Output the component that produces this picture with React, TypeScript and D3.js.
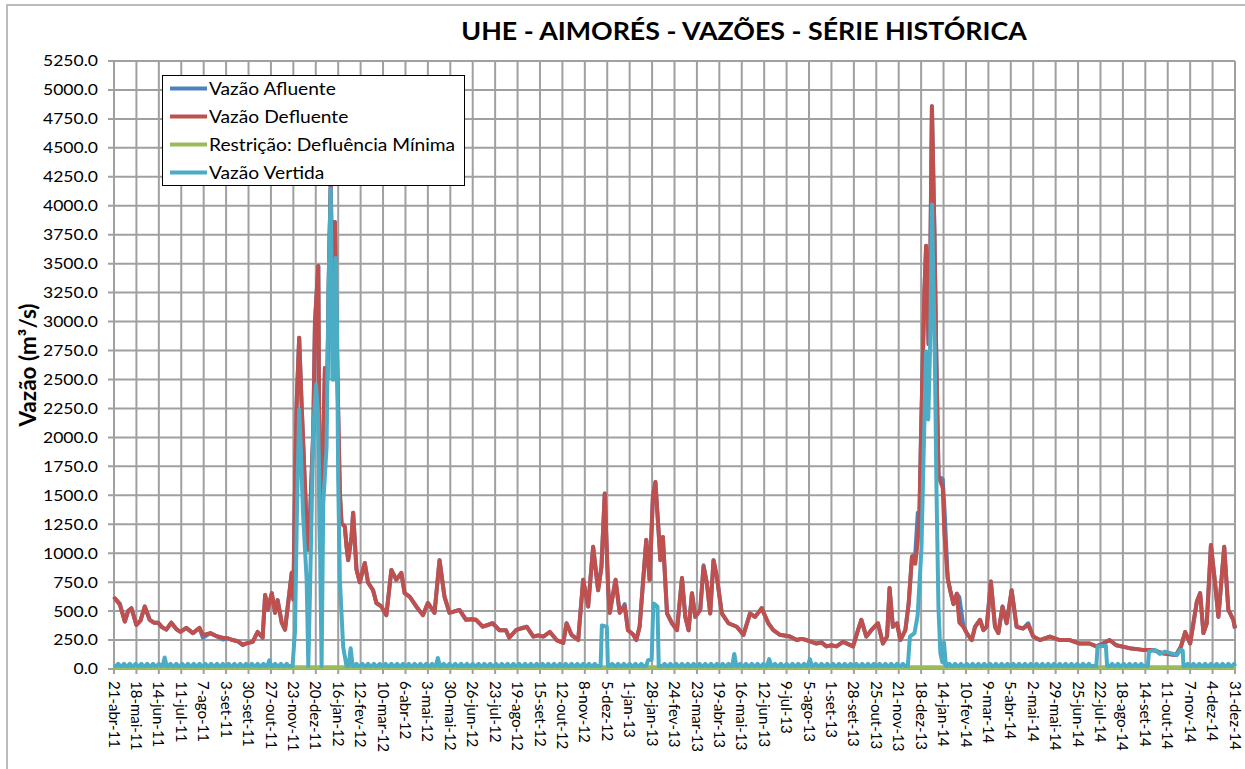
import React, { useEffect } from 'react';
import * as d3 from 'd3';

// eixo X: dias contados a partir de 21-abr-11, um rótulo a cada 27 dias
const rotulosX = [
  '21-abr-11', '18-mai-11', '14-jun-11', '11-jul-11', '7-ago-11', '3-set-11', '30-set-11', '27-out-11',
  '23-nov-11', '20-dez-11', '16-jan-12', '12-fev-12', '10-mar-12', '6-abr-12', '3-mai-12', '30-mai-12',
  '26-jun-12', '23-jul-12', '19-ago-12', '15-set-12', '12-out-12', '8-nov-12', '5-dez-12', '1-jan-13',
  '28-jan-13', '24-fev-13', '23-mar-13', '19-abr-13', '16-mai-13', '12-jun-13', '9-jul-13', '5-ago-13',
  '1-set-13', '28-set-13', '25-out-13', '21-nov-13', '18-dez-13', '14-jan-14', '10-fev-14', '9-mar-14',
  '5-abr-14', '2-mai-14', '29-mai-14', '25-jun-14', '22-jul-14', '18-ago-14', '14-set-14', '11-out-14',
  '7-nov-14', '4-dez-14', '31-dez-14',
];
const passoRotulo = 27;
const ticksY = [0, 250, 500, 750, 1000, 1250, 1500, 1750, 2000, 2250, 2500, 2750, 3000, 3250, 3500, 3750,
  4000, 4250, 4500, 4750, 5000, 5250];

// [dia, m³/s]
const defluente: [number, number][] = [
  [0, 600], [1, 610], [7, 555], [13, 410], [17, 500], [21, 525], [27, 380], [32, 420], [37, 540], [43, 425],
  [48, 400], [53, 400], [58, 360], [63, 340], [69, 400], [75, 345], [80, 320], [87, 355], [95, 310], [103, 355],
  [107, 295], [116, 310], [123, 285], [131, 270], [137, 265], [143, 250], [149, 240], [155, 210], [161, 225], [167, 235],
  [173, 320], [179, 270], [182, 640], [185, 510], [190, 655], [194, 485], [197, 595], [202, 400], [206, 340], [209, 525],
  [214, 830], [216, 600], [218, 1590], [220, 2300], [223, 2860], [226, 2270], [230, 1570], [232, 1250], [234, 1030], [236, 1290],
  [240, 2060], [242, 2990], [246, 3480], [248, 1030], [251, 1630], [254, 2600], [257, 2500], [259, 3500], [261, 4200], [264, 2700],
  [266, 3860], [269, 2560], [272, 1520], [274, 1260], [278, 1230], [280, 1060], [282, 940], [286, 1140], [288, 1350], [292, 860],
  [296, 750], [302, 915], [306, 745], [312, 680], [316, 570], [322, 540], [328, 465], [334, 855], [340, 770], [346, 830],
  [350, 655], [356, 625], [364, 540], [372, 465], [378, 570], [386, 485], [392, 940], [398, 625], [404, 485], [416, 510],
  [424, 425], [430, 430], [436, 425], [444, 365], [450, 380], [456, 395], [464, 335], [472, 335], [476, 270], [484, 335],
  [490, 350], [497, 365], [505, 280], [511, 290], [517, 280], [525, 320], [533, 250], [541, 225], [545, 395], [551, 295],
  [559, 250], [565, 770], [571, 540], [577, 1055], [583, 680], [587, 880], [591, 1515], [595, 710], [597, 485], [604, 770],
  [609, 485], [615, 540], [619, 335], [625, 300], [629, 250], [633, 365], [641, 1115], [645, 770], [649, 1490], [652, 1615],
  [656, 1170], [658, 940], [661, 1140], [666, 480], [672, 395], [678, 335], [684, 785], [688, 450], [692, 335], [696, 655],
  [700, 450], [706, 510], [710, 885], [714, 740], [718, 480], [722, 940], [726, 795], [732, 480], [740, 395], [750, 365],
  [758, 295], [766, 480], [772, 450], [780, 525], [788, 395], [794, 335], [802, 295], [814, 280], [822, 250], [828, 260],
  [834, 250], [846, 220], [852, 230], [858, 195], [864, 205], [870, 195], [878, 235], [884, 215], [890, 195], [896, 335],
  [900, 425], [906, 280], [912, 335], [920, 395], [926, 220], [931, 280], [934, 700], [938, 365], [943, 395], [947, 250],
  [953, 335], [957, 565], [961, 970], [965, 910], [968, 1110], [970, 1340], [972, 2055], [976, 3265], [978, 3655], [981, 2805],
  [983, 3460], [985, 4860], [988, 3780], [990, 2805], [993, 1665], [998, 1565], [1000, 1175], [1004, 785], [1007, 680], [1011, 560],
  [1015, 650], [1018, 400], [1023, 365], [1027, 310], [1033, 250], [1037, 365], [1043, 425], [1047, 335], [1051, 365], [1056, 755],
  [1061, 365], [1065, 310], [1070, 540], [1075, 395], [1081, 680], [1087, 365], [1095, 350], [1101, 380], [1107, 280], [1115, 250],
  [1127, 280], [1139, 250], [1151, 250], [1163, 220], [1175, 220], [1183, 195], [1191, 220], [1199, 250], [1207, 205], [1223, 180],
  [1239, 165], [1251, 165], [1263, 135], [1279, 120], [1285, 195], [1290, 320], [1296, 220], [1304, 580], [1308, 655], [1312, 310],
  [1316, 395], [1321, 1070], [1326, 740], [1330, 450], [1337, 1055], [1342, 510], [1348, 425], [1350, 350],
];

const afluente: [number, number][] = [
  [0, 600], [1, 610], [7, 565], [13, 410], [17, 500], [21, 525], [27, 380], [32, 420], [37, 540], [43, 425],
  [48, 400], [53, 400], [58, 360], [63, 340], [69, 400], [75, 345], [80, 320], [87, 355], [95, 310], [103, 355],
  [107, 270], [116, 310], [123, 285], [131, 255], [137, 265], [143, 250], [149, 240], [155, 205], [161, 225], [167, 235],
  [173, 320], [179, 270], [182, 640], [185, 510], [190, 655], [194, 485], [197, 595], [202, 400], [206, 340], [209, 525],
  [214, 830], [216, 600], [218, 1590], [220, 2300], [223, 2860], [226, 2270], [230, 1570], [232, 1250], [234, 1030], [236, 1290],
  [240, 2060], [242, 2990], [246, 3480], [248, 1030], [251, 1630], [254, 2600], [257, 2500], [259, 3500], [261, 4200], [264, 2700],
  [266, 3860], [269, 2560], [272, 1520], [274, 1260], [278, 1230], [280, 1060], [282, 940], [286, 1140], [288, 1350], [292, 860],
  [296, 750], [302, 915], [306, 745], [312, 680], [316, 570], [322, 540], [328, 465], [334, 855], [340, 770], [346, 830],
  [350, 655], [356, 625], [364, 540], [372, 465], [378, 570], [386, 485], [392, 940], [398, 625], [404, 485], [416, 510],
  [424, 425], [430, 430], [436, 425], [444, 365], [450, 380], [456, 395], [464, 335], [472, 335], [476, 270], [484, 335],
  [490, 350], [497, 365], [505, 280], [511, 290], [517, 280], [525, 320], [533, 250], [541, 225], [545, 395], [551, 295],
  [559, 250], [565, 770], [571, 540], [577, 1055], [583, 680], [587, 880], [591, 1515], [595, 710], [597, 485], [604, 770],
  [609, 485], [615, 560], [619, 335], [625, 300], [629, 250], [633, 365], [641, 1115], [645, 770], [649, 1490], [652, 1615],
  [656, 1170], [658, 940], [661, 1140], [666, 480], [672, 395], [678, 335], [684, 785], [688, 450], [692, 335], [696, 655],
  [700, 450], [706, 510], [710, 895], [714, 740], [718, 480], [722, 940], [726, 795], [732, 480], [740, 395], [750, 365],
  [758, 295], [766, 480], [772, 450], [780, 525], [788, 395], [794, 335], [802, 295], [814, 280], [822, 250], [828, 260],
  [834, 250], [846, 220], [852, 230], [858, 195], [864, 205], [870, 195], [878, 235], [884, 215], [890, 195], [896, 335],
  [900, 425], [906, 280], [912, 335], [920, 395], [926, 220], [931, 280], [934, 700], [938, 365], [943, 395], [947, 250],
  [953, 335], [957, 565], [961, 970], [965, 1000], [968, 1350], [970, 1340], [972, 2055], [976, 3265], [978, 3655], [981, 2805],
  [983, 3460], [985, 4860], [988, 3780], [990, 2805], [993, 1665], [998, 1640], [1000, 1400], [1004, 785], [1007, 680], [1011, 560],
  [1015, 650], [1018, 620], [1023, 365], [1027, 310], [1033, 250], [1037, 365], [1043, 425], [1047, 335], [1051, 365], [1056, 755],
  [1061, 365], [1065, 310], [1070, 540], [1075, 395], [1081, 680], [1087, 365], [1095, 350], [1101, 395], [1107, 280], [1115, 250],
  [1127, 280], [1139, 250], [1151, 250], [1163, 220], [1175, 220], [1183, 195], [1191, 220], [1199, 250], [1207, 205], [1223, 180],
  [1239, 165], [1251, 165], [1263, 135], [1279, 120], [1285, 195], [1290, 320], [1296, 220], [1304, 580], [1308, 655], [1312, 310],
  [1316, 395], [1321, 1070], [1326, 740], [1330, 450], [1337, 1055], [1342, 510], [1348, 425], [1350, 350],
];

const restricao: [number, number][] = [[0, 15], [1350, 15]];

// vazão vertida: nível de base e descargas semanais de teste (pico por semana; null = evento de cheia)
const vertidaBase = 25;
const vertidaSemanal: (number | null)[] = [
  45, 45, 45, 45, 45, 45, 45, 45, 100, 45,
  45, 45, 45, 45, 45, 45, 45, 45, 45, 45,
  45, 45, 45, 45, 45, 45, 75, 45, 45, 45,
  null, null, null, null, null, null, null, null, null, null,
  180, 45, 45, 45, 45, 45, 45, 45, 45, 45,
  45, 45, 45, 45, 45, 95, 45, 45, 45, 45,
  45, 45, 45, 45, 45, 45, 45, 45, 45, 45,
  45, 45, 45, 45, 45, 45, 45, 45, 45, 45,
  45, 45, 45, null, null, 45, 45, 45, 45, 45,
  45, null, null, null, 45, 45, 45, 45, 45, 45,
  45, 45, 45, 45, 45, 45, 130, 45, 45, 45,
  45, 45, 85, 45, 45, 45, 45, 45, 45, 85,
  45, 45, 45, 45, 45, 45, 45, 45, 45, 45,
  45, 45, 45, 45, 45, 45, null, null, null, null,
  null, null, null, 45, 45, 45, 45, 45, 45, 45,
  45, 45, 45, 45, 45, 45, 45, 45, 45, 45,
  45, 45, 45, 45, 45, 45, 45, 45, null, null,
  null, 45, 45, 45, 45, 45, 45, null, null, null,
  null, null, null, null, 45, 45, 45, 45, 45, 45,
  45, 45, 45,
];
const vertidaNov11: [number, number][] = [
  [215, 25], [218, 330], [220.4, 1400], [223, 2240], [225, 1900], [227.6, 1350], [232, 770], [234, 25], [236, 650],
  [240, 2060], [243.3, 2460], [245.7, 2200], [247, 1700], [250, 25], [252, 1430], [256, 1920], [258.3, 3300],
  [261, 4150], [263, 2500], [265, 2500], [267, 3550], [268.5, 2990], [270, 1630], [272, 770], [276, 190], [280, 25],
];
const vertidaDez12: [number, number][] = [[586, 25], [587.5, 375], [593.5, 365], [594.8, 25]];
const vertidaJan13: [number, number][] = [[641, 25], [643, 75], [647.5, 80], [649.5, 565], [651, 560], [654.5, 540], [656, 25]];
const vertidaDez13: [number, number][] = [
  [956, 25], [958.5, 280], [964, 310], [967.8, 460], [972.4, 1045], [976, 2155], [977.8, 2740], [980.6, 2155],
  [982.9, 2805], [985.1, 4010], [988.3, 2805], [990.6, 1500], [992.9, 525], [995.2, 135], [997.5, 60], [999.5, 230], [1002, 25],
];
const vertidaJul14: [number, number][] = [[1183, 25], [1184.5, 195], [1194.5, 200], [1196, 25]];
const vertidaSetOut14: [number, number][] = [
  [1245, 25], [1246.5, 150], [1253.5, 165], [1259.5, 130], [1265.5, 150], [1273.5, 135], [1280, 120], [1284, 165],
  [1287, 160], [1288, 25],
];

const cores = { afluente: '#4F81BD', defluente: '#C0504D', restricao: '#9BBB59', vertida: '#4BACC6' };
const legenda = [
  { nome: 'Vazão Afluente', cor: cores.afluente },
  { nome: 'Vazão Defluente', cor: cores.defluente },
  { nome: 'Restrição: Defluência Mínima', cor: cores.restricao },
  { nome: 'Vazão Vertida', cor: cores.vertida },
];

const W = 1245;
const H = 769;
const plot = { left: 114, right: 1235, top: 61, bottom: 669 };
const fonte = 'Lato, "Open Sans", sans-serif';
const grade = '#a0a0a0';

export default function App() {
  useEffect(() => {
    document.body.style.margin = '0';
  }, []);

  const diaFinal = passoRotulo * (rotulosX.length - 1);
  const x = d3.scaleLinear().domain([0, diaFinal]).range([plot.left, plot.right]);
  const y = d3.scaleLinear().domain([0, 5250]).range([plot.bottom, plot.top]);
  const linha = d3.line<[number, number]>().x(d => x(d[0])).y(d => y(d[1]));

  // monta a série vertida: eventos + descargas semanais
  const pontosVertida: [number, number][] = [
    [0, vertidaBase],
    ...vertidaNov11, ...vertidaDez12, ...vertidaJan13, ...vertidaDez13, ...vertidaJul14, ...vertidaSetOut14,
  ];
  vertidaSemanal.forEach((pico, w) => {
    if (pico == null) return;
    const c = 7 * w + 5;
    pontosVertida.push([c - 2.5, vertidaBase], [c, pico], [Math.min(c + 2.5, diaFinal), vertidaBase]);
  });
  pontosVertida.sort((a, b) => a[0] - b[0]);

  const ticksX = rotulosX.map((_, i) => i * passoRotulo);
  const fmt = d3.format('.1f');

  return (
    <svg width={W} height={H} style={{ display: 'block', background: '#fff' }}>
      <rect x={7} y={5} width={1300} height={800} fill="#fff" stroke="#a6a6a6" strokeWidth={1.5} />

      {/* grade */}
      <g stroke={grade} strokeWidth={2}>
        {ticksY.map(t => (
          <line key={'h' + t} x1={plot.left - 6} x2={plot.right} y1={y(t)} y2={y(t)} />
        ))}
        {ticksX.map(t => (
          <line key={'v' + t} x1={x(t)} x2={x(t)} y1={plot.top} y2={plot.bottom + 5} />
        ))}
      </g>

      {/* rótulos eixo Y */}
      <g fontFamily={fonte} fontSize={15} fill="#000" textAnchor="end">
        {ticksY.map(t => (
          <text key={'ty' + t} transform={`translate(${plot.left - 16},${y(t)}) scale(1.17,1)`} dy="0.36em">{fmt(t)}</text>
        ))}
      </g>

      {/* rótulos eixo X */}
      <g fontFamily={fonte} fontSize={15} fill="#000">
        {ticksX.map((t, i) => (
          <text key={'tx' + t} transform={`translate(${x(t)},${plot.bottom + 12}) rotate(90)`} dy="0.36em">
            {rotulosX[i]}
          </text>
        ))}
      </g>

      <text transform={`translate(36,${(plot.top + plot.bottom) / 2}) rotate(-90)`} textAnchor="middle"
        fontFamily={fonte} fontSize={22.5} fontWeight="bold">Vazão (m³/s)</text>

      <text transform="translate(744,40) scale(1.05,1)" textAnchor="middle" fontFamily={fonte} fontSize={25.5}
        fontWeight="bold">
        UHE - AIMORÉS - VAZÕES - SÉRIE HISTÓRICA
      </text>

      {/* séries */}
      <g fill="none" strokeWidth={4} strokeLinejoin="round">
        <path d={linha(afluente) ?? ''} stroke={cores.afluente} />
        <path d={linha(defluente) ?? ''} stroke={cores.defluente} />
        <path d={linha(restricao) ?? ''} stroke={cores.restricao} />
        <path d={linha(pontosVertida) ?? ''} stroke={cores.vertida} />
      </g>

      {/* legenda */}
      <g>
        <rect x={162.5} y={75.5} width={302} height={110} fill="#fff" stroke="#000" strokeWidth={1} />
        {legenda.map((l, i) => (
          <g key={l.nome} transform={`translate(0,${88.5 + i * 28})`}>
            <line x1={170} x2={207} y1={0} y2={0} stroke={l.cor} strokeWidth={4} />
            <text transform="translate(209,0) scale(1.13,1)" dy="0.36em" fontFamily={fonte} fontSize={17}>{l.nome}</text>
          </g>
        ))}
      </g>
    </svg>
  );
}
